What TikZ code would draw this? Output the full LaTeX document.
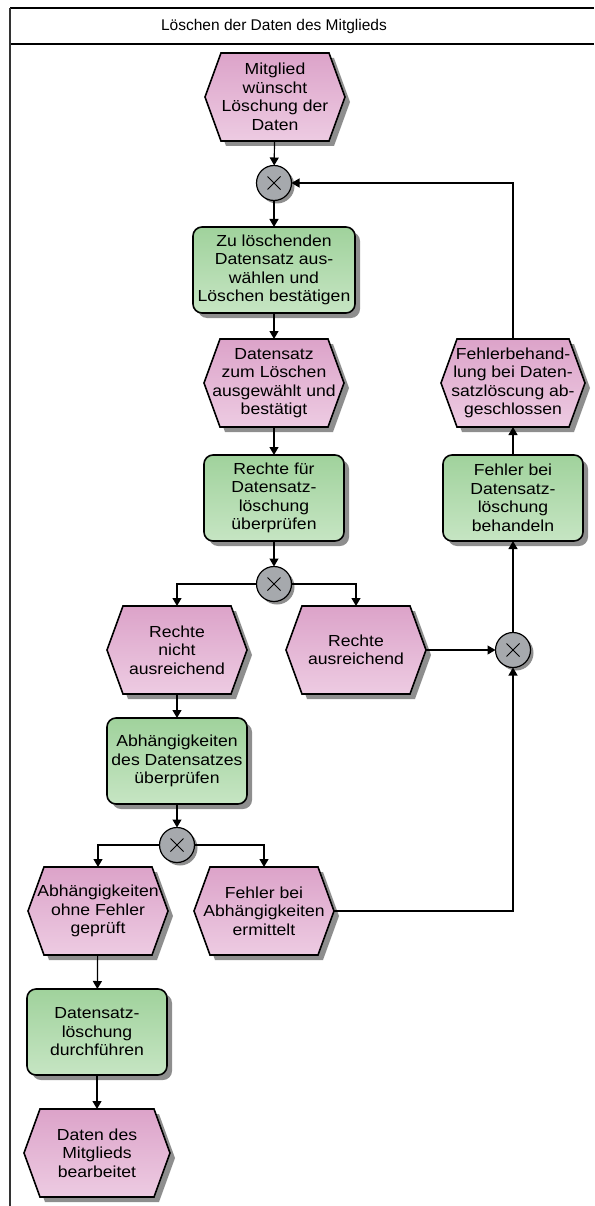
\documentclass[tikz,border=0pt]{standalone}
\usepackage{fontspec}
\setmainfont{Liberation Sans}
\newfontfamily\shapefont[FakeStretch=1.1]{Liberation Sans}
\usetikzlibrary{arrows.meta}
\usetikzlibrary{backgrounds}

\definecolor{evttop}{HTML}{DCA3C9}
\definecolor{evtbot}{HTML}{EDCBE2}
\definecolor{fcttop}{HTML}{A0D29C}
\definecolor{fctbot}{HTML}{C6E5C3}
\definecolor{xorgray}{HTML}{A6A9AD}
\definecolor{shadowgray}{HTML}{8E8E8E}

% hexagon outline around an event node, first argument shifts it for the shadow
\newcommand{\hexoutline}[2]{([xshift=#1,yshift=-#1]#2.west) -- ([xshift=16pt+#1,yshift=-#1]#2.north west) -- ([xshift=-16pt+#1,yshift=-#1]#2.north east) -- ([xshift=#1,yshift=-#1]#2.east) -- ([xshift=-16pt+#1,yshift=-#1]#2.south east) -- ([xshift=16pt+#1,yshift=-#1]#2.south west) -- cycle}

\tikzset{
    txt/.style = {font=\shapefont\fontsize{16}{18.5}\selectfont, align=center},
    evt/.style = {txt, rectangle, minimum width=140pt, minimum height=88pt, inner sep=0pt, outer sep=0pt},
    evtbody/.style = {line width=1.6pt, draw=black, top color=evttop, bottom color=evtbot, line join=miter},
    shadow/.style = {fill=shadowgray, draw=none},
    fct/.style = {txt, rectangle, rounded corners=9pt, line width=1.6pt, draw=black, top color=fcttop, bottom color=fctbot, minimum width=140pt, minimum height=86pt, inner sep=0pt, outer sep=0pt},
    xor/.style = {circle, minimum size=35pt, inner sep=0pt, outer sep=0pt, line width=1.2pt, draw=black, fill=xorgray,
        path picture={\draw[line width=0.9pt] ([shift={(-6.5pt,-6.5pt)}]path picture bounding box.center) -- ++(13pt,13pt) ([shift={(-6.5pt,6.5pt)}]path picture bounding box.center) -- ++(13pt,-13pt);}},
    flow/.style = {line width=1.2pt, -{Triangle[width=9pt,length=8pt]}},
    lane/.style = {line width=1.6pt, black},
}

\begin{document}
\begin{tikzpicture}[x=1pt,y=-1pt]
\useasboundingbox (0,0) rectangle (594,1206);
% lane
\draw[lane] (10,8) -- (594,8);
\draw[lane] (10,44) -- (594,44);
\draw[line width=1.2pt, black!80] (10,8) -- (10,1206);
\node[font=\fontsize{15.5}{18}\selectfont] (title) at (274, 26) {Löschen der Daten des Mitglieds};
%
\node[evt] at (275, 97) (e1) {Mitglied\\wünscht\\Löschung der\\Daten};
\node[xor] at (274, 183) (x1) {};
\node[fct, minimum width=162pt] at (274, 270) (f1) {Zu löschenden\\Datensatz aus-\\wählen und\\Löschen bestätigen};
\node[evt] at (274, 383) (e2) {Datensatz\\zum Löschen\\ausgewählt und\\bestätigt};
\node[fct] at (274, 498) (f2) {Rechte für\\Datensatz-\\löschung\\überprüfen};
\node[xor] at (274, 584) (x2) {};
\node[evt] at (177, 650) (e3) {Rechte\\nicht\\ausreichend};
\node[evt] at (356, 650) (e4) {Rechte\\ausreichend};
\node[xor] at (513, 650) (x3) {};
\node[fct] at (513, 498) (f3) {Fehler bei\\Datensatz-\\löschung\\behandeln};
\node[evt, minimum width=144pt] at (513, 383) (e5) {Fehlerbehand-\\lung bei Daten-\\satzlöscung ab-\\geschlossen};
\node[fct] at (177, 761) (f4) {Abhängigkeiten\\des Datensatzes\\überprüfen};
\node[xor] at (177, 845) (x4) {};
\node[evt] at (98, 911) (e6) {Abhängigkeiten\\ohne Fehler\\geprüft};
\node[evt] at (264, 911) (e7) {Fehler bei\\Abhängigkeiten\\ermittelt};
\node[fct] at (97, 1032) (f5) {Datensatz-\\löschung\\durchführen};
\node[evt, minimum width=146pt] at (97, 1153) (e8) {Daten des\\Mitglieds\\bearbeitet};
%
% shadows and event hexagons behind the nodes
\begin{pgfonlayer}{background}
\foreach \n in {f1,f2,f3,f4,f5}
    \fill[shadow, rounded corners=9pt] ([xshift=5pt,yshift=-5pt]\n.north west) rectangle ([xshift=5pt,yshift=-5pt]\n.south east);
\foreach \n in {x1,x2,x3,x4}
    \fill[shadow] ([xshift=3pt,yshift=-3pt]\n.center) circle[radius=17.5pt];
\foreach \n in {e1,e2,e3,e4,e5,e6,e7,e8} {
    \fill[shadow] \hexoutline{5pt}{\n};
    \draw[evtbody] \hexoutline{0pt}{\n};
}
\end{pgfonlayer}
%
\draw[flow] (e1) -- (x1);
\draw[flow] (x1) -- (f1);
\draw[flow] (f1) -- (e2);
\draw[flow] (e2) -- (f2);
\draw[flow] (f2) -- (x2);
\draw[flow] (x2.west) -| (e3.north);
\draw[flow] (x2.east) -| (e4.north);
\draw[flow] (e3) -- (f4);
\draw[flow] (f4) -- (x4);
\draw[flow] (x4.west) -| (e6.north);
\draw[flow] (x4.east) -| (e7.north);
\draw[flow] (e6) -- (f5);
\draw[flow] (f5) -- (e8);
\draw[flow] (e4.east) -- (x3.west);
\draw[flow] (e7.east) -| (x3.south);
\draw[flow] (x3) -- (f3);
\draw[flow] (f3) -- (e5);
\draw[flow] (e5.north) |- (x1.east);
\end{tikzpicture}
\end{document}
